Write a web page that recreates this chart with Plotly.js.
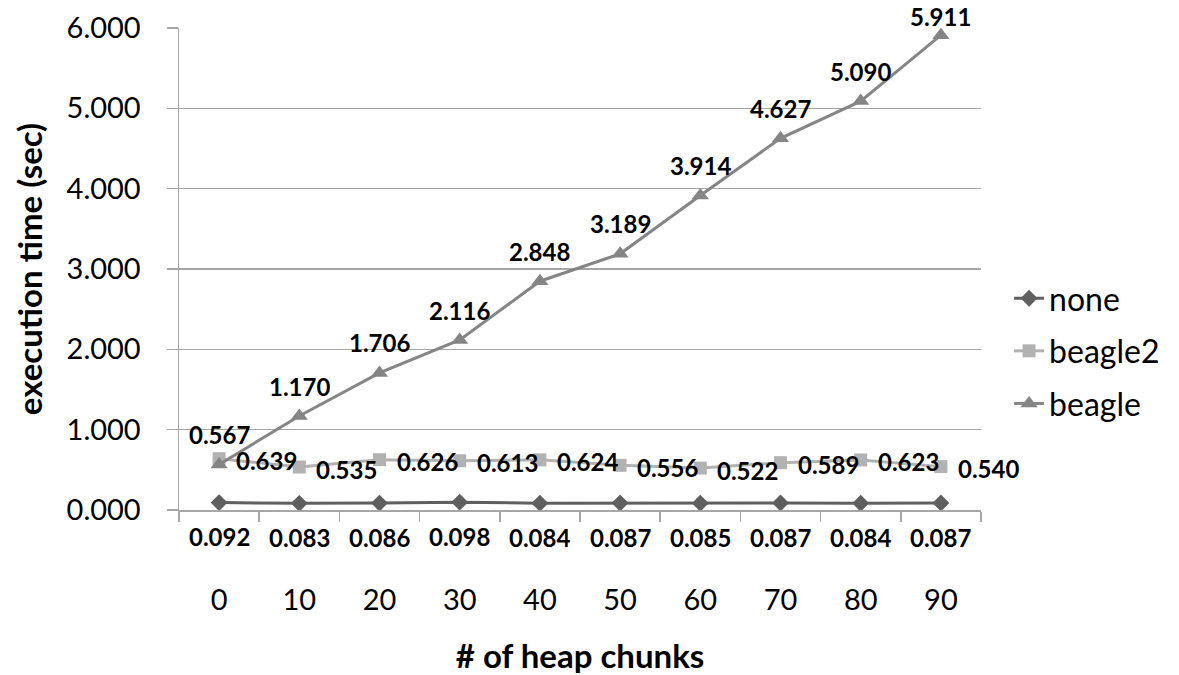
<!DOCTYPE html>
<html>
<head>
<meta charset="utf-8">
<script src="https://cdn.plot.ly/plotly-3.0.1.min.js"></script>
<style>html,body{margin:0;padding:0;background:#fff;}#chart{width:1179px;height:675px;}</style>
</head>
<body>
<div id="chart"></div>
<script>
const categories = ["0","10","20","30","40","50","60","70","80","90"];
const noneVals    = [0.092,0.083,0.086,0.098,0.084,0.087,0.085,0.087,0.084,0.087];
const beagle2Vals = [0.639,0.535,0.626,0.613,0.624,0.556,0.522,0.589,0.623,0.540];
const beagleVals  = [0.567,1.170,1.706,2.116,2.848,3.189,3.914,4.627,5.090,5.911];
const yTickVals = [0,1,2,3,4,5,6];
const yTickText = ["0.000","1.000","2.000","3.000","4.000","5.000","6.000"];

const FONT = "Lato, 'Open Sans', sans-serif";
const M = {l:179, r:198, t:28, b:165, autoexpand:false};
const H = 675 - M.t - M.b;
const YMAX = 6;

const traces = [
  {name:"none", x:categories, y:noneVals, type:"scatter", mode:"lines+markers",
   line:{color:"#5f5f5f", width:3}, marker:{symbol:"diamond", size:13, color:"#5f5f5f"}, legendgroup:"a"},
  {name:"beagle2", x:categories, y:beagle2Vals, type:"scatter", mode:"lines+markers",
   line:{color:"#b2b2b2", width:3}, marker:{symbol:"square", size:13, color:"#b2b2b2"}, legendgroup:"b"},
  {name:"beagle", x:categories, y:beagleVals, type:"scatter", mode:"lines+markers",
   line:{color:"#858585", width:3}, marker:{symbol:"triangle-up", size:15, color:"#858585"}, legendgroup:"c"}
];

const labFont = {family:FONT, size:24, color:"#000", weight:"bold"};
const ann = [];
function pixY(v){ return M.t + (YMAX - v)/YMAX*H; }
categories.forEach((c,i)=>{
  const pb = pixY(beagleVals[i]);
  ann.push({x:i, y:beagleVals[i], xref:"x", yref:"y", text:beagleVals[i].toFixed(3), showarrow:false,
            yshift:Math.min(30, pb - 16), font:labFont});
  ann.push({x:i, y:beagle2Vals[i], xref:"x", yref:"y", text:beagle2Vals[i].toFixed(3), showarrow:false,
            xanchor:"left", xshift:15, yshift:-2, font:labFont});
  ann.push({x:i, y:noneVals[i], xref:"x", yref:"y", text:noneVals[i].toFixed(3), showarrow:false,
            yshift:-34, font:labFont});
});

const layout = {
  width:1179, height:675, margin:M,
  paper_bgcolor:"#fff", plot_bgcolor:"#fff",
  font:{family:FONT, color:"#000"},
  showlegend:true,
  legend:{x:1.035, xanchor:"left", y:0.33, yanchor:"middle", font:{family:FONT, size:32, color:"#000"},
          tracegroupgap:8, bgcolor:"rgba(0,0,0,0)"},
  xaxis:{type:"category", range:[-0.5,9.5], showgrid:false, zeroline:false,
         showline:true, linecolor:"#a6a6a6", linewidth:1.5,
         ticks:"outside", tickson:"boundaries", ticklen:10, tickcolor:"#a6a6a6", tickwidth:1.5,
         tickfont:{family:FONT, size:29, color:"#000"}, ticklabelstandoff:64,
         title:{text:"# of heap chunks", font:{family:FONT, size:33, color:"#000", weight:"bold"}, standoff:38}},
  yaxis:{range:[0,6], tickvals:yTickVals, ticktext:yTickText, showgrid:true, gridcolor:"#a6a6a6", gridwidth:1.5,
         zeroline:false, showline:true, linecolor:"#a6a6a6", linewidth:1.5,
         ticks:"outside", ticklen:11, tickcolor:"#a6a6a6", tickwidth:1.5,
         tickfont:{family:FONT, size:29, color:"#000"}, ticklabelstandoff:20,
         title:{text:"execution time (sec)", font:{family:FONT, size:33, color:"#000", weight:"bold"}, standoff:14}},
  annotations:ann
};

Plotly.newPlot("chart", traces, layout, {displayModeBar:false, staticPlot:true});
</script>
</body>
</html>
